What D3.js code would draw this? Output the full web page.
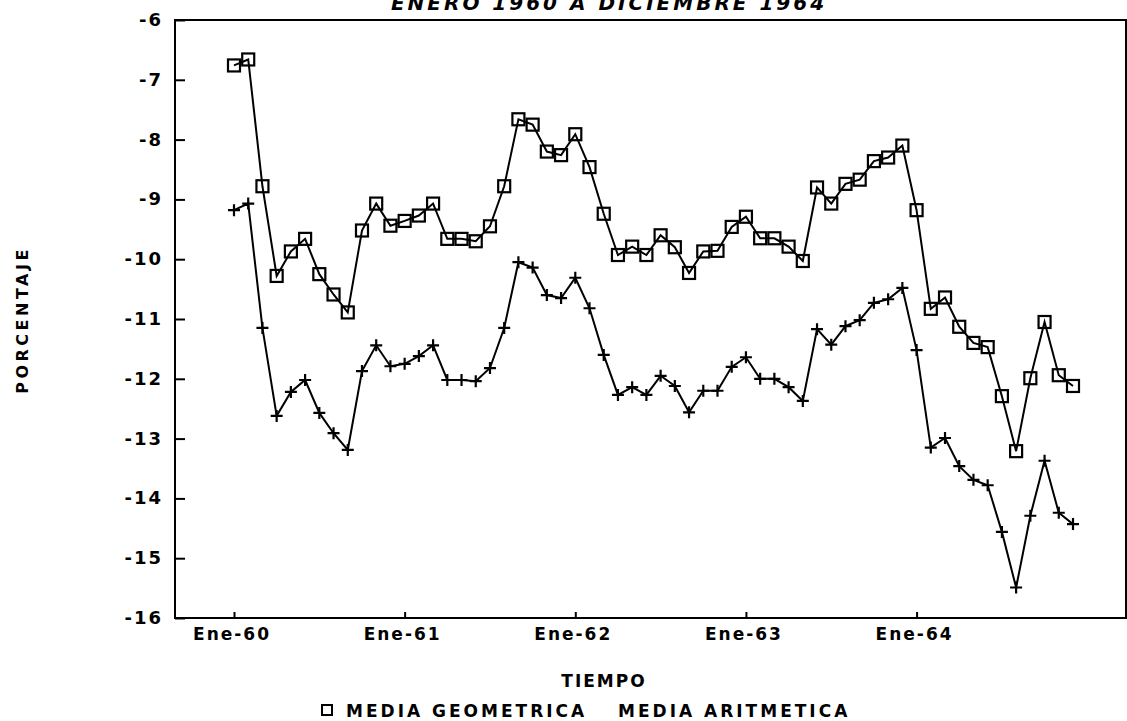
<!DOCTYPE html>
<html>
<head>
<meta charset="utf-8">
<script src="https://cdn.jsdelivr.net/npm/d3@7"></script>
<style>
  body { margin: 0; background: #fff; }
  text { font-family: "DejaVu Sans", sans-serif; font-weight: bold; fill: #000; }
</style>
</head>
<body>
<div id="main"></div>
<script>
const ctx = { w: 1127, h: 721 };

// media geometrica, ene-60 .. dic-64 (mensual)
const mediaGeometrica = [
  -6.76, -6.66, -8.78, -10.28, -9.87, -9.66, -10.25, -10.59, -10.89, -9.52, -9.07, -9.44,
  -9.36, -9.27, -9.07, -9.66, -9.66, -9.70, -9.45, -8.78, -7.66, -7.75, -8.20, -8.26,
  -7.91, -8.46, -9.24, -9.93, -9.79, -9.93, -9.60, -9.80, -10.23, -9.87, -9.86, -9.46,
  -9.29, -9.65, -9.65, -9.79, -10.03, -8.80, -9.07, -8.74, -8.67, -8.36, -8.30, -8.10,
  -9.18, -10.83, -10.64, -11.13, -11.40, -11.47, -12.29, -13.21, -11.99, -11.05, -11.94, -12.12
];
// media aritmetica
const mediaAritmetica = [
  -9.18, -9.07, -11.15, -12.62, -12.22, -12.02, -12.57, -12.91, -13.19, -11.87, -11.44, -11.79,
  -11.75, -11.62, -11.44, -12.02, -12.02, -12.04, -11.82, -11.15, -10.05, -10.14, -10.60, -10.65,
  -10.31, -10.82, -11.60, -12.27, -12.14, -12.27, -11.95, -12.12, -12.56, -12.20, -12.20, -11.80,
  -11.64, -12.00, -12.00, -12.14, -12.37, -11.17, -11.43, -11.12, -11.02, -10.73, -10.67, -10.48,
  -11.52, -13.15, -12.99, -13.46, -13.69, -13.78, -14.56, -15.49, -14.29, -13.37, -14.24, -14.43
];
const xTickIdx = [0, 12, 24, 36, 48];
const xTickLabels = ["Ene-60", "Ene-61", "Ene-62", "Ene-63", "Ene-64"];
const yTicks = [-6, -7, -8, -9, -10, -11, -12, -13, -14, -15, -16];

const frame = { left: 175, right: 1126, top: 20, bottom: 618 };

const svg = d3.select("#main").append("svg")
  .attr("width", ctx.w)
  .attr("height", ctx.h);

const x = d3.scaleLinear().domain([0, 59]).range([234, 1073]);
const y = d3.scaleLinear().domain([-16, -6]).range([frame.bottom, frame.top]);

// titulo (cortado arriba, como en el original)
svg.append("text")
  .attr("x", 609).attr("y", 10)
  .attr("text-anchor", "middle")
  .style("font-size", "20px")
  .style("font-style", "italic")
  .style("letter-spacing", "3px")
  .text("ENERO 1960 A DICIEMBRE 1964");

// marco
svg.append("rect")
  .attr("x", frame.left).attr("y", frame.top)
  .attr("width", frame.right - frame.left)
  .attr("height", frame.bottom - frame.top)
  .attr("fill", "none")
  .attr("stroke", "#000")
  .attr("stroke-width", 2);

// eje Y
const yAxis = svg.append("g")
  .attr("transform", `translate(${frame.left},0)`)
  .call(d3.axisRight(y).tickValues(yTicks).tickSize(10).tickFormat(""));
yAxis.select(".domain").remove();
yAxis.selectAll("line").attr("stroke-width", 2);

svg.selectAll(".ylab")
  .data(yTicks)
  .enter().append("text")
  .attr("class", "ylab")
  .attr("x", 163)
  .attr("y", d => y(d) + 6)
  .attr("text-anchor", "end")
  .style("font-size", "18px")
  .style("letter-spacing", "2px")
  .text(d => d);

// eje X
const xAxis = svg.append("g")
  .attr("transform", `translate(0,${frame.bottom})`)
  .call(d3.axisTop(x).tickValues(xTickIdx).tickSize(6).tickFormat(""));
xAxis.select(".domain").remove();
xAxis.selectAll("line").attr("stroke-width", 2);

svg.selectAll(".xlab")
  .data(xTickIdx)
  .enter().append("text")
  .attr("class", "xlab")
  .attr("x", d => x(d) - 2)
  .attr("y", 640)
  .attr("text-anchor", "middle")
  .style("font-size", "17px")
  .style("letter-spacing", "2px")
  .text((d, i) => xTickLabels[i]);

svg.append("text")
  .attr("x", 604).attr("y", 687)
  .attr("text-anchor", "middle")
  .style("font-size", "17px")
  .style("letter-spacing", "2px")
  .text("TIEMPO");

svg.append("text")
  .attr("transform", "translate(28,320) rotate(-90)")
  .attr("text-anchor", "middle")
  .style("font-size", "16px")
  .style("letter-spacing", "3.5px")
  .text("PORCENTAJE");

// leyenda
svg.append("rect")
  .attr("x", 322).attr("y", 705)
  .attr("width", 10).attr("height", 10)
  .attr("fill", "none").attr("stroke", "#000").attr("stroke-width", 2);
svg.append("text")
  .attr("x", 346).attr("y", 717)
  .style("font-size", "17px")
  .style("letter-spacing", "3px")
  .text("MEDIA GEOMETRICA");
svg.append("text")
  .attr("x", 618).attr("y", 717)
  .style("font-size", "17px")
  .style("letter-spacing", "3px")
  .text("MEDIA ARITMETICA");

// series
const line = d3.line().x((d, i) => x(i)).y(d => y(d));

svg.append("path")
  .datum(mediaAritmetica)
  .attr("d", line)
  .attr("fill", "none").attr("stroke", "#000").attr("stroke-width", 2);

svg.append("path")
  .datum(mediaGeometrica)
  .attr("d", line)
  .attr("fill", "none").attr("stroke", "#000").attr("stroke-width", 2);

// marcadores "+"
svg.selectAll(".pt-arit")
  .data(mediaAritmetica)
  .enter().append("path")
  .attr("class", "pt-arit")
  .attr("transform", (d, i) => `translate(${x(i)},${y(d)})`)
  .attr("d", "M-6,0H6M0,-6V6")
  .attr("stroke", "#000").attr("stroke-width", 2.2);

// marcadores cuadrados
svg.selectAll(".pt-geo")
  .data(mediaGeometrica)
  .enter().append("rect")
  .attr("class", "pt-geo")
  .attr("x", (d, i) => x(i) - 6)
  .attr("y", d => y(d) - 6)
  .attr("width", 12).attr("height", 12)
  .attr("fill", "none")
  .attr("stroke", "#000").attr("stroke-width", 2.2);
</script>
</body>
</html>
